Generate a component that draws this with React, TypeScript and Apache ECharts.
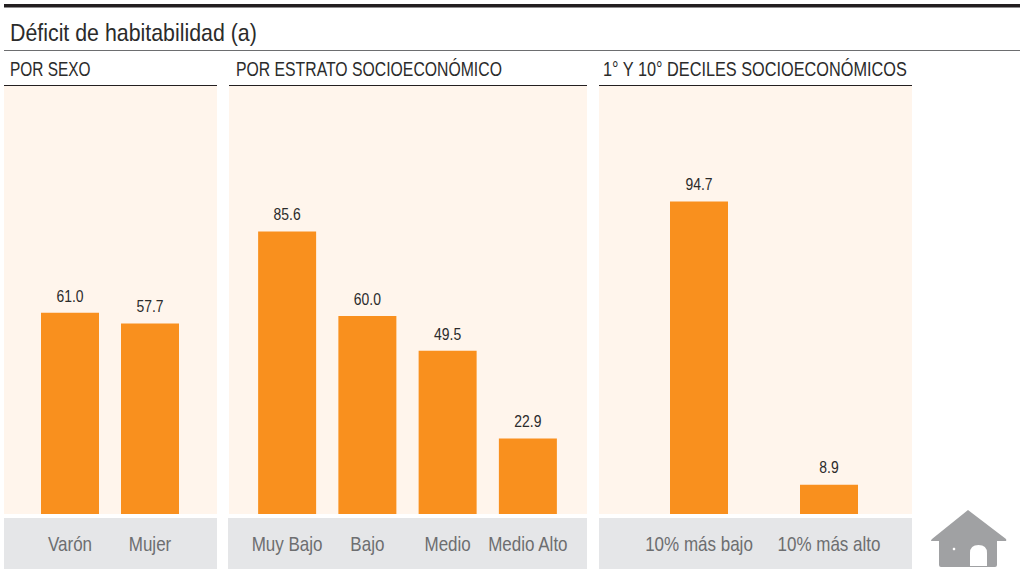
import React, { useEffect, useRef } from "react";
import * as echarts from "echarts";

const sexCategories = ["Varón", "Mujer"];
const sexValues = [61.0, 57.7];
const stratumCategories = ["Muy Bajo", "Bajo", "Medio", "Medio Alto"];
const stratumValues = [85.6, 60.0, 49.5, 22.9];
const decileCategories = ["10% más bajo", "10% más alto"];
const decileValues = [94.7, 8.9];
const chartTitle = "Déficit de habitabilidad (a)";
const panelTitles = ["POR SEXO", "POR ESTRATO SOCIOECONÓMICO", "1° Y 10° DECILES SOCIOECONÓMICOS"];

const FONT = '"Liberation Sans", Arial, sans-serif';
const ORANGE = "#F9901E";
const CREAM = "#FFF5EC";
const GREY = "#E5E6E8";

const panels = [
  { x: 4, w: 213, gridX: 30, gridW: 160, titleX: 10, titleScale: 0.735 },
  { x: 229, w: 358, gridX: 247, gridW: 321, titleX: 236, titleScale: 0.752 },
  { x: 599, w: 313, gridX: 634, gridW: 260, titleX: 603, titleScale: 0.776 },
];
const greyPanels = [
  { x: 4, w: 213 },
  { x: 228, w: 359 },
  { x: 599, w: 313 },
];
const groups = [
  { c: sexCategories, v: sexValues },
  { c: stratumCategories, v: stratumValues },
  { c: decileCategories, v: decileValues },
];

const housePath =
  "M968 510 L1006 539 Q1007 541 1005 541 L997 541 L997 565 Q997 567 995 567 L941 567 Q939 567 939 565 L939 541 L932 541 Q930 541 932 539 Z " +
  "M970 566 L987 566 L987 553 Q987 545 978.5 545 Q970 545 970 553 Z";
echarts.graphic.registerShape("house", echarts.graphic.extendPath(housePath, {}) as any);

export default function App() {
  const ref = useRef<HTMLDivElement>(null);
  useEffect(() => {
    const chart = echarts.init(ref.current!, undefined, { renderer: "svg" });
    const rect = (x: number, y: number, w: number, h: number, fill: string) => ({
      type: "rect",
      z: -1,
      silent: true,
      shape: { x, y, width: w, height: h },
      style: { fill },
    });
    const heading = (text: string, x: number, y: number, size: number, scaleX: number) => ({
      type: "text",
      x,
      y,
      scaleX,
      style: {
        text,
        fontFamily: FONT,
        fontSize: size,
        fill: "#2b2b2b",
        textAlign: "left",
        textVerticalAlign: "middle",
      },
    });
    const renderLabels = (categories: string[]) => (params: any, api: any) => {
      const i = params.dataIndex;
      const value = api.value(1);
      const top = api.coord([i, value]);
      const base = api.coord([i, 0]);
      return {
        type: "group",
        silent: true,
        children: [
          {
            type: "text",
            x: top[0],
            y: top[1] - 17,
            scaleX: 0.87,
            style: {
              text: Number(value).toFixed(1),
              fontFamily: FONT,
              fontSize: 16,
              fill: "#2b2b2b",
              textAlign: "center",
              textVerticalAlign: "middle",
            },
          },
          {
            type: "text",
            x: base[0],
            y: base[1] + 30,
            scaleX: 0.81,
            style: {
              text: categories[i],
              fontFamily: FONT,
              fontSize: 21,
              fill: "#6d6e70",
              textAlign: "center",
              textVerticalAlign: "middle",
            },
          },
        ],
      };
    };
    chart.setOption({
      animation: false,
      backgroundColor: "#ffffff",
      graphic: [
        rect(4, 4, 1016, 3.5, "#231F20"),
        rect(4, 50, 1016, 1, "#6d6e70"),
        ...panels.map((p) => rect(p.x, 85, p.w, 1, "#231F20")),
        ...panels.map((p) => rect(p.x, 86, p.w, 428, CREAM)),
        ...greyPanels.map((p) => rect(p.x, 518, p.w, 51, GREY)),
        heading(chartTitle, 10, 33, 24, 0.89),
        ...panelTitles.map((t, i) => heading(t, panels[i].titleX, 69, 21, panels[i].titleScale)),
        { type: "house", x: 0, y: 0, style: { fill: "#A0A1A3" } },
        { type: "circle", shape: { cx: 954, cy: 549, r: 1.3 }, style: { fill: "#ffffff" } },
      ],
      grid: panels.map((p) => ({ left: p.gridX, width: p.gridW, top: 85, height: 429 })),
      xAxis: groups.map((g, i) => ({
        type: "category",
        gridIndex: i,
        data: g.c,
        axisLine: { show: false },
        axisTick: { show: false },
        axisLabel: { show: false },
      })),
      yAxis: groups.map((_, i) => ({
        type: "value",
        gridIndex: i,
        min: 0,
        max: 130,
        show: false,
        splitLine: { show: false },
      })),
      series: [
        ...groups.map((g, i) => ({
          type: "bar",
          xAxisIndex: i,
          yAxisIndex: i,
          data: g.v,
          barWidth: 58,
          itemStyle: { color: ORANGE },
        })),
        ...groups.map((g, i) => ({
          type: "custom",
          xAxisIndex: i,
          yAxisIndex: i,
          clip: false,
          z: 5,
          data: g.c.map((c, j) => [c, g.v[j]]),
          encode: { x: 0, y: 1 },
          renderItem: renderLabels(g.c),
        })),
      ],
    });
    return () => chart.dispose();
  }, []);
  return <div ref={ref} style={{ position: "absolute", left: 0, top: 0, width: 1020, height: 569 }} />;
}
